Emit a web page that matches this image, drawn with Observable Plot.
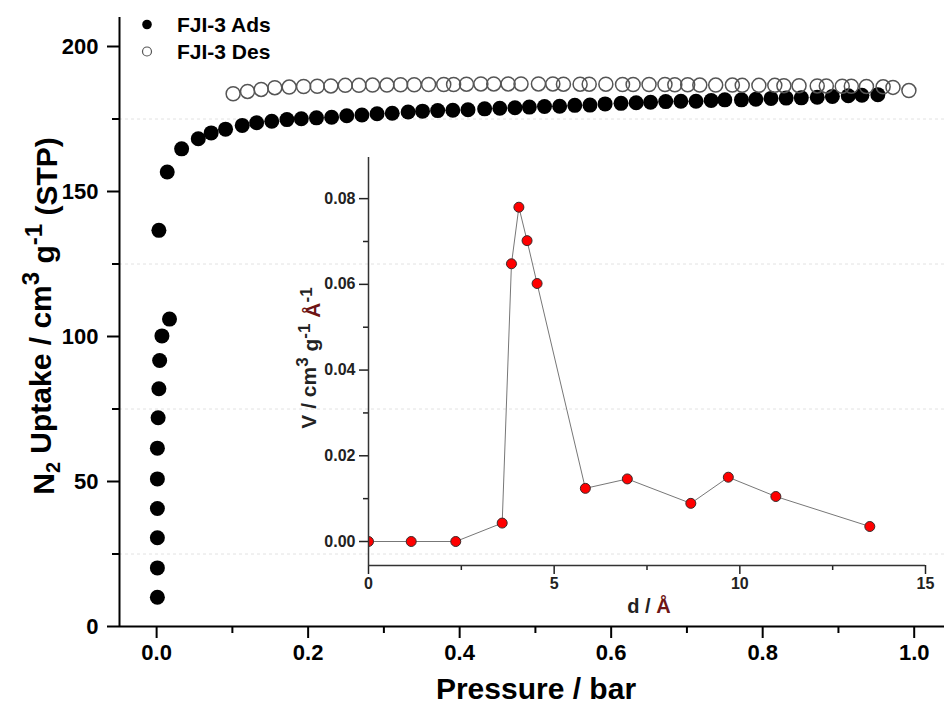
<!DOCTYPE html>
<html><head><meta charset="utf-8">
<script src="https://cdn.jsdelivr.net/npm/d3@7"></script>
<script src="https://cdn.jsdelivr.net/npm/@observablehq/plot@0.6"></script>
<style>
body{margin:0;background:#fff;}
#chart{position:relative;width:944px;height:704px;}
#chart svg{position:absolute;}
</style></head><body><div id="chart"></div>
<script>
// ---------- data ----------
const adsP = [0.001,0.001,0.001,0.001,0.001,0.001,0.002,0.003,0.004,0.007,0.017,0.003,0.014,0.033,0.055,0.072,0.091,
  0.113,0.132,0.152,0.172,0.191,0.211,0.231,0.251,0.271,0.291,0.311,0.332,0.351,0.371,
  0.391,0.411,0.433,0.453,0.473,0.492,0.512,0.532,0.552,0.572,0.592,0.613,0.633,0.652,0.672,0.692,
  0.712,0.732,0.750,0.772,0.791,0.811,0.831,0.851,0.872,0.892,0.913,0.931,0.952];
const adsU = [10.1,20.2,30.6,40.7,50.9,61.5,72.0,82.0,91.7,100.2,106.0,136.6,156.7,164.7,168.2,170.2,171.5,
  172.8,173.7,174.2,174.8,175.1,175.4,175.6,176.1,176.4,176.8,177.0,177.4,177.7,177.9,
  178.0,178.2,178.5,178.7,178.9,179.1,179.3,179.4,179.7,179.8,180.2,180.4,180.6,180.8,181.0,181.1,
  181.1,181.4,181.6,181.6,181.8,182.1,182.2,182.3,182.5,182.8,183.0,183.2,183.4];
const desP = [0.101,0.120,0.138,0.156,0.175,0.194,0.212,0.230,0.249,0.267,
  0.285,0.304,0.322,0.340,0.359,0.379,0.392,0.409,0.428,0.445,
  0.464,0.481,0.504,0.523,0.537,0.559,0.571,0.593,0.615,0.629,
  0.650,0.671,0.684,0.701,0.717,0.738,0.760,0.773,0.795,0.816,
  0.828,0.848,0.872,0.884,0.905,0.917,0.937,0.959,0.972,0.993];
const desU = [183.7,184.5,185.2,185.8,186.0,186.2,186.3,186.4,186.6,186.6,
  186.7,186.7,186.8,186.8,186.9,186.9,186.9,187.0,187.1,187.1,
  187.1,187.1,187.1,187.1,187.0,187.0,187.0,187.0,186.9,186.9,
  186.9,186.9,186.8,186.8,186.7,186.7,186.7,186.6,186.6,186.6,
  186.5,186.5,186.4,186.4,186.3,186.3,186.2,186.1,185.9,184.8];
const poreD = [0, 1.15, 2.35, 3.6, 3.85, 4.05, 4.27, 4.54, 5.84, 6.97, 8.68, 9.69, 10.97, 13.5];
const poreV = [0, 0, 0, 0.0043, 0.0648, 0.0780, 0.0702, 0.0602, 0.0124, 0.0146, 0.0089, 0.0150, 0.0105, 0.0035];

const mainXTicks = [0, 0.2, 0.4, 0.6, 0.8, 1.0];
const mainXMinor = [0.1, 0.3, 0.5, 0.7, 0.9];
const mainYTicks = [0, 50, 100, 150, 200];
const mainYMinor = [25, 75, 125, 175];
const insetXTicks = [0, 5, 10, 15];
const insetXMinor = [2.5, 7.5, 12.5];
const insetYTicks = [0, 0.02, 0.04, 0.06, 0.08];
const insetYMinor = [0.01, 0.03, 0.05, 0.07];
const legendLabels = ["FJI-3 Ads", "FJI-3 Des"];

const mainXDomain = [-0.049, 1.04];
const mainYDomain = [0, 210];
const insetXDomain = [0, 15];
const insetYDomain = [-0.0056, 0.0896];

// ---------- tables ----------
const ads = adsP.map((p, i) => ({p, u: adsU[i]}));
const des = desP.map((p, i) => ({p, u: desU[i]}));
const pores = poreD.map((d, i) => ({d, v: poreV[i]}));

const FONT = "'Liberation Sans', Arial, Helvetica, sans-serif";
const noLabel = () => "";

// ---------- main chart ----------
const main = Plot.plot({
  width: 944, height: 704,
  marginLeft: 119, marginRight: 0, marginTop: 17, marginBottom: 78,
  x: {domain: mainXDomain},
  y: {domain: mainYDomain},
  style: {fontFamily: FONT, fontWeight: "bold", background: "transparent", overflow: "visible", color: "#000"},
  marks: [
    Plot.gridY(mainYMinor, {stroke: "#e2e2e2", strokeOpacity: 1, strokeDasharray: "3,3", strokeWidth: 1}),
    Plot.axisY(mainYTicks, {tickSize: 12, tickPadding: 9, fontSize: 22, strokeWidth: 2, label: null, tickFormat: d => d}),
    Plot.axisY(mainYMinor, {tickSize: 7, strokeWidth: 2, label: null, tickFormat: noLabel}),
    Plot.axisX(mainXTicks, {tickSize: 12, tickPadding: 6, fontSize: 22, strokeWidth: 2, label: null, tickFormat: d3.format(".1f")}),
    Plot.axisX(mainXMinor, {tickSize: 7, strokeWidth: 2, label: null, tickFormat: noLabel}),
    Plot.ruleX([mainXDomain[0]], {strokeWidth: 2}),
    Plot.ruleY([mainYDomain[0]], {strokeWidth: 2}),
    Plot.dot(ads, {x: "p", y: "u", r: 7.5, fill: "#000"}),
    Plot.dot(des, {x: "p", y: "u", r: 7, fill: "none", stroke: "#555", strokeWidth: 1.5})
  ]
});
main.style.left = "0px"; main.style.top = "0px";

const ms = d3.select(main);
// y title
const yt = ms.append("text")
  .attr("transform", "translate(54,316) rotate(-90)")
  .attr("text-anchor", "middle").attr("font-size", 30).attr("font-weight", "bold").attr("fill", "#000");
yt.append("tspan").text("N");
yt.append("tspan").attr("font-size", 20).attr("dy", "0.3em").text("2");
yt.append("tspan").attr("dy", "-0.3em").text(" Uptake / cm");
yt.append("tspan").attr("font-size", 24).attr("dy", "-0.5em").text("3");
yt.append("tspan").attr("dy", "0.5em").text(" g");
yt.append("tspan").attr("font-size", 24).attr("dy", "-0.5em").text("-1");
yt.append("tspan").attr("dy", "0.5em").text(" (STP)");
// x title
ms.append("text").attr("x", 536).attr("y", 699).attr("text-anchor", "middle")
  .attr("font-size", 30).attr("font-weight", "bold").attr("fill", "#000").text("Pressure / bar");
// legend
const lg = ms.append("g").attr("text-anchor", "start");
lg.append("circle").attr("cx", 147).attr("cy", 24.5).attr("r", 4.8).attr("fill", "#000");
lg.append("circle").attr("cx", 147).attr("cy", 51.5).attr("r", 4.5).attr("fill", "none").attr("stroke", "#555").attr("stroke-width", 1.2);
lg.selectAll("text.lab").data(legendLabels).join("text").attr("class", "lab")
  .attr("x", 177).attr("y", (d, i) => 32 + i * 26.5).attr("text-anchor", "start")
  .attr("font-size", 21).attr("font-weight", "bold").attr("fill", "#000").text(d => d);

// ---------- inset ----------
const inset = Plot.plot({
  width: 654, height: 490,
  marginLeft: 78, marginRight: 19, marginTop: 17, marginBottom: 65,
  x: {domain: insetXDomain},
  y: {domain: insetYDomain},
  style: {fontFamily: FONT, fontWeight: "bold", background: "transparent", overflow: "visible", color: "#222"},
  marks: [
    Plot.axisY(insetYTicks, {tickSize: 9, tickPadding: 4, fontSize: 16, strokeWidth: 1.5, label: null, tickFormat: d3.format(".2f")}),
    Plot.axisY(insetYMinor, {tickSize: 5, strokeWidth: 1.5, label: null, tickFormat: noLabel}),
    Plot.axisX(insetXTicks, {tickSize: 9, tickPadding: 3, fontSize: 16, strokeWidth: 1.5, label: null, tickFormat: d => d}),
    Plot.axisX(insetXMinor, {tickSize: 5, strokeWidth: 1.5, label: null, tickFormat: noLabel}),
    Plot.line(pores, {x: "d", y: "v", stroke: "#777", strokeWidth: 1, clip: true}),
    Plot.dot(pores, {x: "d", y: "v", r: 5, fill: "#ff0000", stroke: "#3a2a2a", strokeWidth: 1, clip: true}),
    Plot.ruleX([insetXDomain[0]], {stroke: "#333", strokeWidth: 1.5}),
    Plot.ruleY([insetYDomain[0]], {stroke: "#333", strokeWidth: 1.5})
  ]
});
inset.style.left = "290px"; inset.style.top = "140px";
const is = d3.select(inset);
const AR = "#6e1414";
const it = is.append("text")
  .attr("transform", "translate(26,218) rotate(-90)")
  .attr("text-anchor", "middle").attr("font-size", 21).attr("font-weight", "bold").attr("fill", "#222");
it.append("tspan").text("V / cm");
it.append("tspan").attr("font-size", 17).attr("dy", "-0.5em").text("3");
it.append("tspan").attr("dy", "0.5em").text(" g");
it.append("tspan").attr("font-size", 17).attr("dy", "-0.5em").text("-1");
it.append("tspan").attr("dy", "0.5em").text(" ");
it.append("tspan").attr("fill", AR).text("Å");
it.append("tspan").attr("font-size", 17).attr("dy", "-0.5em").text("-1");
const xt = is.append("text").attr("x", 359).attr("y", 473).attr("text-anchor", "middle")
  .attr("font-size", 20).attr("font-weight", "bold").attr("fill", "#222");
xt.append("tspan").text("d / ");
xt.append("tspan").attr("fill", AR).text("Å");

const chart = document.getElementById("chart");
chart.append(main);
chart.append(inset);
</script></body></html>
